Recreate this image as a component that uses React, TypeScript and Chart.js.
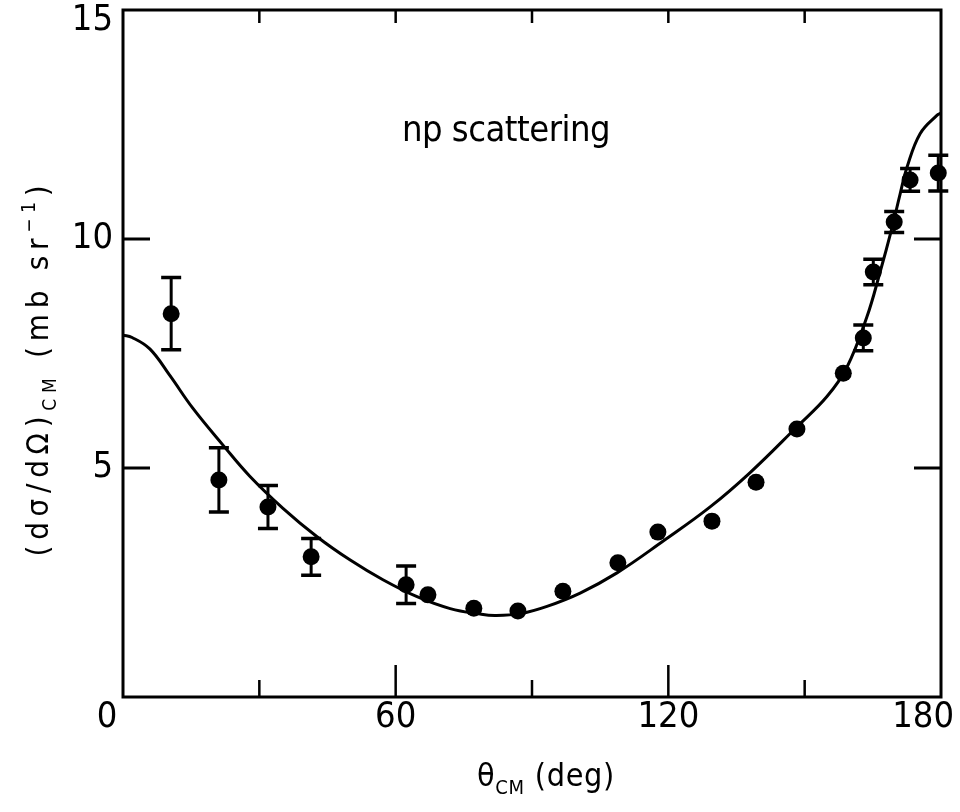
import React, { useEffect, useRef } from "react";
import { Chart, registerables } from "chart.js";

Chart.register(...registerables);

// ---- data ----
const dataAngles = [10.6, 21.1, 31.9, 41.4, 62.3, 67.1, 77.2, 86.9, 96.8, 108.9, 117.7, 129.6, 139.3, 148.3, 158.5, 162.9, 165.1, 169.7, 173.2, 179.4];
const dataValues = [8.37, 4.74, 4.15, 3.06, 2.45, 2.23, 1.94, 1.88, 2.31, 2.93, 3.6, 3.84, 4.69, 5.85, 7.07, 7.84, 9.28, 10.37, 11.29, 11.44];
const dataErrors = [0.79, 0.7, 0.47, 0.4, 0.41, 0, 0, 0, 0, 0, 0, 0, 0, 0, 0, 0.28, 0.28, 0.23, 0.25, 0.39];

const curveAngles = [0, 2, 5.9, 10.3, 15.4, 22.0, 27.9, 35.2, 42.7, 50.0, 57.2, 64.7, 72.0, 78.6, 81.9, 87.4, 93.3, 100.6, 108.7, 118.8, 129.2, 138.0, 148.3, 154.9, 159.3, 163.7, 166.6, 169.2, 171.0, 172.5, 175.4, 179.1, 180];
const curveValues = [7.9, 7.85, 7.6, 7.02, 6.3, 5.5, 4.82, 4.12, 3.5, 2.99, 2.56, 2.19, 1.93, 1.81, 1.78, 1.82, 1.98, 2.27, 2.71, 3.4, 4.15, 4.9, 5.9, 6.56, 7.2, 8.3, 9.28, 10.24, 10.98, 11.56, 12.3, 12.7, 12.75];

const xLabelValues = [0, 60, 120, 180];
const yLabelValues = [5, 10, 15];

const annotationText = "np scattering";
const xTitleParts = ["θ", "CM", " (deg)"];
const yTitleParts = ["(dσ/dΩ)", "CM", " (mb sr", "−1", ")"];

const FONT = "'Liberation Sans Narrow', 'DejaVu Sans Condensed', 'Arial Narrow', 'Liberation Sans', sans-serif";

type Seg = { t: string; size: number; dy: number };

function drawRich(ctx: CanvasRenderingContext2D, segs: Seg[], x: number, y: number, targetWidth: number, align: "left" | "center") {
  ctx.save();
  ctx.textAlign = "left";
  ctx.textBaseline = "alphabetic";
  (ctx as any).letterSpacing = "0px";
  let natural = 0;
  let chars = 0;
  for (const s of segs) {
    ctx.font = `${s.size}px ${FONT}`;
    natural += ctx.measureText(s.t).width;
    chars += [...s.t].length;
  }
  const spacing = (targetWidth - natural) / chars;
  (ctx as any).letterSpacing = `${spacing}px`;
  let cx = align === "center" ? x - targetWidth / 2 : x;
  for (const s of segs) {
    ctx.font = `${s.size}px ${FONT}`;
    ctx.fillText(s.t, cx, y + s.dy);
    cx += ctx.measureText(s.t).width;
  }
  ctx.restore();
}

const decorPlugin = {
  id: "decor",
  afterDatasetsDraw(chart: any) {
    const ctx: CanvasRenderingContext2D = chart.ctx;
    const xs = chart.scales.x;
    const ys = chart.scales.y;
    ctx.save();
    ctx.strokeStyle = "#000";
    ctx.lineCap = "butt";
    for (let i = 0; i < dataAngles.length; i++) {
      const e = dataErrors[i];
      if (!e) continue;
      const px = xs.getPixelForValue(dataAngles[i]);
      const yt = ys.getPixelForValue(dataValues[i] + e);
      const yb = ys.getPixelForValue(dataValues[i] - e);
      ctx.lineWidth = 3;
      ctx.beginPath();
      ctx.moveTo(px, yt);
      ctx.lineTo(px, yb);
      ctx.stroke();
      ctx.lineWidth = 3.5;
      ctx.beginPath();
      ctx.moveTo(px - 10, yt);
      ctx.lineTo(px + 10, yt);
      ctx.moveTo(px - 10, yb);
      ctx.lineTo(px + 10, yb);
      ctx.stroke();
    }
    ctx.restore();
  },
  afterDraw(chart: any) {
    const ctx: CanvasRenderingContext2D = chart.ctx;
    const xs = chart.scales.x;
    const ys = chart.scales.y;
    const a = chart.chartArea;
    ctx.save();
    ctx.strokeStyle = "#000";
    ctx.fillStyle = "#000";
    ctx.lineWidth = 3;
    ctx.strokeRect(a.left, a.top, a.right - a.left, a.bottom - a.top);
    // inner ticks on x
    ctx.lineWidth = 2.5;
    for (const t of xs.ticks) {
      const v = t.value;
      if (v <= xs.min || v >= xs.max) continue;
      const px = xs.getPixelForValue(v);
      const len = v % 60 === 0 ? 32 : 17;
      ctx.beginPath();
      ctx.moveTo(px, a.bottom);
      ctx.lineTo(px, a.bottom - len);
      ctx.moveTo(px, a.top);
      ctx.lineTo(px, a.top + 13);
      ctx.stroke();
    }
    // inner ticks on y
    ctx.lineWidth = 3;
    for (const t of ys.ticks) {
      const v = t.value;
      if (v <= ys.min || v >= ys.max) continue;
      const py = ys.getPixelForValue(v);
      ctx.beginPath();
      ctx.moveTo(a.left, py);
      ctx.lineTo(a.left + 27, py);
      ctx.moveTo(a.right, py);
      ctx.lineTo(a.right - 27, py);
      ctx.stroke();
    }
    // y tick labels
    ctx.font = `36px ${FONT}`;
    ctx.textAlign = "right";
    ctx.textBaseline = "middle";
    for (const v of yLabelValues) {
      const py = Math.max(ys.getPixelForValue(v), a.top + 11);
      ctx.fillText(String(v), a.left - 10, py);
    }
    // x tick labels (corner label pulled left, last label kept inside canvas)
    ctx.textAlign = "center";
    for (let i = 0; i < xLabelValues.length; i++) {
      const txt = String(xLabelValues[i]);
      const w = ctx.measureText(txt).width;
      let px = xs.getPixelForValue(xLabelValues[i]);
      if (i === 0) px -= 16;
      px = Math.min(px, chart.width - w / 2 - 6);
      ctx.fillText(txt, px, a.bottom + 21);
    }
    ctx.restore();

    // annotation
    drawRich(ctx, [{ t: annotationText, size: 36, dy: 0 }], 402, 141, 208, "left");

    // x title
    drawRich(
      ctx,
      [
        { t: xTitleParts[0], size: 32, dy: 0 },
        { t: xTitleParts[1], size: 20, dy: 8 },
        { t: xTitleParts[2], size: 32, dy: 0 },
      ],
      546,
      786,
      138,
      "center"
    );

    // y title (rotated)
    ctx.save();
    ctx.translate(48, 368);
    ctx.rotate(-Math.PI / 2);
    drawRich(
      ctx,
      [
        { t: yTitleParts[0], size: 31, dy: 0 },
        { t: yTitleParts[1], size: 19, dy: 8 },
        { t: yTitleParts[2], size: 31, dy: 0 },
        { t: yTitleParts[3], size: 19, dy: -13 },
        { t: yTitleParts[4], size: 31, dy: 0 },
      ],
      0,
      0,
      377,
      "center"
    );
    ctx.restore();
  },
};

export default function App() {
  const ref = useRef<HTMLCanvasElement>(null);
  useEffect(() => {
    const canvas = ref.current;
    if (!canvas) return;
    const chart = new Chart(canvas, {
      type: "scatter",
      data: {
        datasets: [
          {
            type: "line",
            data: curveAngles.map((x, i) => ({ x, y: curveValues[i] })),
            borderColor: "#000",
            borderWidth: 3,
            pointRadius: 0,
            fill: false,
            tension: 0.4,
            clip: false,
          } as any,
          {
            type: "scatter",
            data: dataAngles.map((x, i) => ({ x, y: dataValues[i] })),
            backgroundColor: "#000",
            borderColor: "#000",
            borderWidth: 0,
            pointRadius: 8.5,
            clip: false,
          } as any,
        ],
      },
      options: {
        animation: false,
        responsive: true,
        maintainAspectRatio: false,
        layout: { padding: { top: 10, right: 19, left: 0, bottom: 0 } },
        plugins: { legend: { display: false }, tooltip: { enabled: false } },
        scales: {
          x: {
            type: "linear",
            min: 0,
            max: 180,
            grid: { display: false },
            border: { display: false },
            ticks: { stepSize: 30, display: false },
            afterFit: (s: any) => {
              s.height = 115;
              s.paddingLeft = 0;
              s.paddingRight = 0;
            },
          },
          y: {
            type: "linear",
            min: 0,
            max: 15,
            grid: { display: false },
            border: { display: false },
            ticks: { stepSize: 5, display: false },
            afterFit: (s: any) => {
              s.width = 123;
              s.paddingTop = 0;
              s.paddingBottom = 0;
            },
          },
        },
      },
      plugins: [decorPlugin],
    });
    return () => chart.destroy();
  }, []);
  return (
    <div style={{ position: "absolute", left: 0, top: 0, width: 960, height: 812, background: "#fff" }}>
      <canvas ref={ref} />
    </div>
  );
}
